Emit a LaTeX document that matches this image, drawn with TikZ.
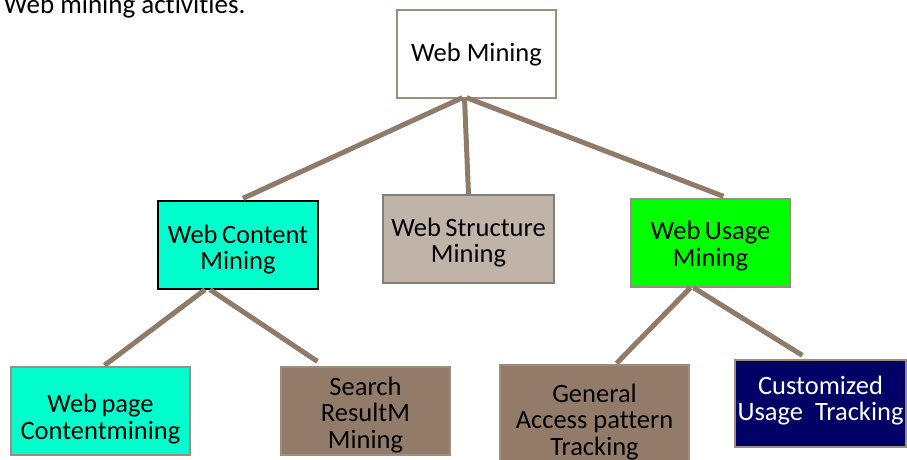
\documentclass[tikz,border=0pt]{standalone}
\usepackage{fontspec}
\setmainfont{Carlito}[Ligatures=NoCommon]
\usetikzlibrary{calc}
\definecolor{linebrown}{RGB}{142,123,106}
\definecolor{boxbrown}{RGB}{147,123,105}
\definecolor{structgray}{RGB}{192,180,168}
\definecolor{aqua}{RGB}{0,255,204}
\definecolor{brightgreen}{RGB}{0,255,0}
\definecolor{navy}{RGB}{0,0,102}
\definecolor{edgegray}{RGB}{160,140,125}
\begin{document}
\begin{tikzpicture}[x=1pt,y=-1pt,
  box/.style={draw=edgegray,line width=1.3pt,inner sep=0pt},
  lbl/.style={align=center,inner sep=0pt,font=\fontsize{26.5}{26.5}\selectfont},
  conn/.style={draw=linebrown,line width=5pt}]
\useasboundingbox (0,0) rectangle (907,459);
\node[anchor=base west,font=\fontsize{27}{28}\selectfont] (title) at (0,13) {Web mining activities.};
\node[box,fill=white,minimum width=159pt,minimum height=88pt,
  label={[lbl,yshift=-1pt]center:Web Mining}] (wm) at (476.5,54) {};
\node[box,fill=aqua,draw=black,minimum width=160pt,minimum height=88pt,
  label={[lbl,yshift=-4.5pt]center:{Web\,Content\\Mining}}] (wcm) at (238,245) {};
\node[box,fill=structgray,draw=gray,minimum width=171pt,minimum height=88pt,
  label={[lbl,yshift=-3.5pt]center:{Web\,Structure\\Mining}}] (wsm) at (468.5,239) {};
\node[box,fill=brightgreen,minimum width=159pt,minimum height=88pt,
  label={[lbl,yshift=-3pt]center:{Web\,Usage\\Mining}}] (wum) at (710.5,243) {};
\node[box,fill=aqua,minimum width=179pt,minimum height=88pt,
  label={[lbl,yshift=-8pt]center:{Web\,page\\Contentmining}}] (wpc) at (100.5,411) {};
\node[box,fill=boxbrown,minimum width=169pt,minimum height=88pt,
  label={[lbl,yshift=-4pt]center:{Search\\ResultM\\Mining}}] (srm) at (365.5,411) {};
\node[box,fill=boxbrown,minimum width=189pt,minimum height=110pt,
  label={[lbl,yshift=-2pt]center:{General\\Access pattern\\Tracking}}] (gap) at (594.5,420) {};
\node[box,fill=navy,minimum width=171pt,minimum height=87pt,
  label={[lbl,text=white,yshift=3pt]center:{Customized\\Usage~~Tracking}}] (cut) at (820.5,403.5) {};
\coordinate (c1) at ($(srm.north west)+(37,-5)$);
\coordinate (c2) at ($(cut.north west)+(68,-4)$);
\draw[conn] ($(wm.south)+(-14,-1)$) -- ($(wcm.north)+(5,-2)$);
\draw[conn] ($(wm.south)+(-12,-1)$) -- (wsm.north);
\draw[conn] ($(wm.south)+(-10,-1)$) -- ($(wum.north)+(13,-2)$);
\draw[conn] ($(wcm.south)+(-33,0)$) -- ($(wpc.north)+(4,-1)$);
\draw[conn] ($(wcm.south)+(-28,0)$) -- (c1);
\draw[conn] ($(wum.south)+(-20,0)$) -- ($(gap.north)+(22,-1)$);
\draw[conn] ($(wum.south)+(-17,0)$) -- (c2);
\end{tikzpicture}
\end{document}
